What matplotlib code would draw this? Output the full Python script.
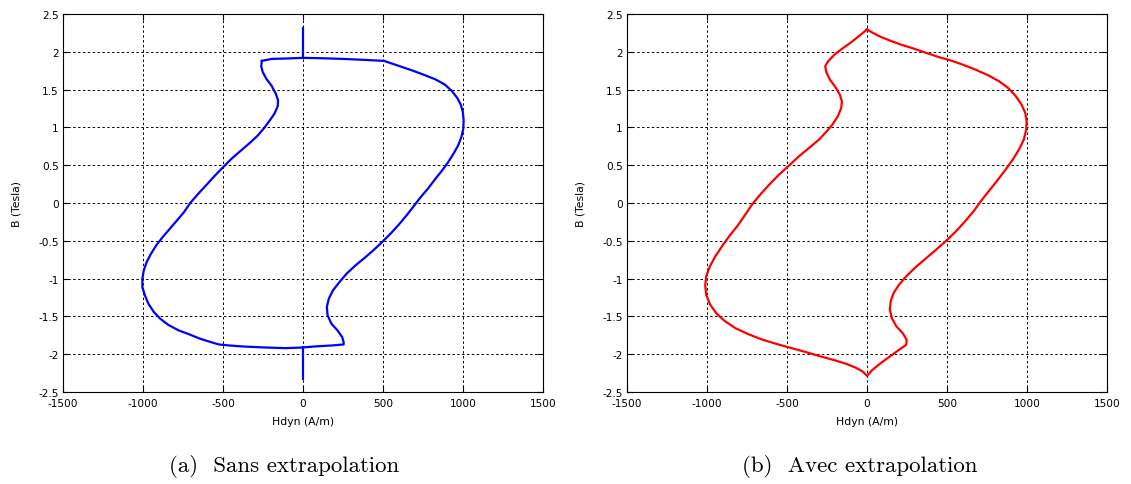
import matplotlib
matplotlib.use("Agg")
import matplotlib.pyplot as plt

# (a) Sans extrapolation : loop + vertical spikes
H_a = [-257, -196, -107, 0, 116, 250, 384, 506, 562, 629, 696, 763, 830, 886, 930, 964, 986, 999, 1004,
       1002, 990, 970, 941, 908, 870, 825, 781, 736, 696, 651, 602, 551, 495, 439, 384, 328, 272,
       228, 187, 161, 149, 154, 178, 216, 245, 254, 254,
       183, 71, 0, -107, -241, -375, -464, -526,
       -576, -642, -709, -776, -843, -892, -932, -966, -988, -1004, -1004, -995, -977, -950, -917,
       -877, -832, -787, -743, -705, -654, -602, -553, -502, -446, -386, -330, -281, -241, -207,
       -178, -158, -156, -170, -196, -230, -252, -261, -257]
B_a = [1.880, 1.906, 1.911, 1.920, 1.915, 1.906, 1.893, 1.880, 1.840, 1.792, 1.743, 1.690, 1.633, 1.567,
       1.483, 1.390, 1.302, 1.205, 1.094,
       0.984, 0.874, 0.763, 0.653, 0.543, 0.432, 0.313, 0.190, 0.079, -0.031, -0.154, -0.278, -0.397,
       -0.516, -0.627, -0.728, -0.825, -0.936,
       -1.046, -1.156, -1.267, -1.377, -1.487, -1.598, -1.686, -1.774, -1.840, -1.871,
       -1.884, -1.898, -1.911, -1.920, -1.911, -1.898, -1.884, -1.871,
       -1.840, -1.796, -1.739, -1.686, -1.611, -1.531, -1.443, -1.333, -1.222, -1.112, -1.002, -0.891,
       -0.781, -0.671, -0.560,
       -0.450, -0.340, -0.229, -0.119, 0.0, 0.124, 0.243, 0.357, 0.468, 0.587, 0.697, 0.799, 0.896,
       0.997, 1.094,
       1.183, 1.280, 1.359, 1.447, 1.549, 1.646, 1.734, 1.809, 1.880]
spike_top_H = [0, 0]
spike_top_B = [1.92, 2.32]
spike_bot_H = [0, 0]
spike_bot_B = [-1.911, -2.33]

# (b) Avec extrapolation
H_b = [0, 41, 86, 143, 211, 291, 370, 450, 518, 598, 677, 757, 825, 882, 927, 966, 989, 998, 995,
       980, 950, 911, 866, 814, 757, 711, 666, 609, 552, 491, 427, 366, 302, 245, 200, 166, 148,
       143, 155, 184, 223, 248, 245, 200, 143, 86, 34, 0,
       -27, -73, -130, -198, -289, -380, -470, -561, -652, -743, -823, -891, -943, -982, -1005,
       -1011, -1005, -982, -948, -902, -857, -807, -761, -716, -664, -607, -550, -493, -425, -357,
       -300, -255, -216, -182, -161, -157, -170, -198, -232, -255, -261, -243, -198, -148, -95, -43, 0]
B_b = [2.295, 2.246, 2.198, 2.149, 2.096, 2.043, 1.986, 1.929, 1.889, 1.831, 1.765, 1.690, 1.611,
       1.522, 1.421, 1.302, 1.192, 1.081, 0.971,
       0.838, 0.706, 0.574, 0.441, 0.296, 0.146, 0.022, -0.110, -0.252, -0.384, -0.507, -0.627,
       -0.737, -0.852, -0.971, -1.081, -1.192, -1.302,
       -1.412, -1.522, -1.633, -1.721, -1.809, -1.876, -1.942, -2.030, -2.118, -2.207, -2.286,
       -2.229, -2.176, -2.127, -2.083, -2.030, -1.973, -1.920, -1.867, -1.809, -1.734, -1.655,
       -1.558, -1.456, -1.337, -1.214,
       -1.090, -0.971, -0.838, -0.706, -0.560, -0.428, -0.296, -0.154, -0.013, 0.119, 0.252, 0.375,
       0.485, 0.618, 0.737,
       0.838, 0.940, 1.037, 1.147, 1.258, 1.346, 1.434, 1.536, 1.633, 1.734, 1.809, 1.876, 1.973,
       2.052, 2.132, 2.220, 2.295]

x_ticks = [-1500, -1000, -500, 0, 500, 1000, 1500]
y_ticks = [-2.5, -2, -1.5, -1, -0.5, 0, 0.5, 1, 1.5, 2, 2.5]
x_ticklabels = ["-1500", "-1000", "-500", "0", "500", "1000", "1500"]
y_ticklabels = ["-2.5", "-2", "-1.5", "-1", "-0.5", "0", "0.5", "1", "1.5", "2", "2.5"]
xlabel = "Hdyn (A/m)"
ylabel = "B (Tesla)"
captions = ["(a)  Sans extrapolation", "(b)  Avec extrapolation"]

W, Hpx = 1131, 485
fig = plt.figure(figsize=(W / 100, Hpx / 100), dpi=100)
tick_font = dict(family="DejaVu Sans", size=7.6)


def make_axes(left_px, right_px):
    top_px, bot_px = 15, 393
    ax = fig.add_axes([left_px / W, 1 - bot_px / Hpx, (right_px - left_px) / W, (bot_px - top_px) / Hpx])
    ax.set_xlim(-1500, 1500)
    ax.set_ylim(-2.5, 2.5)
    ax.set_xticks(x_ticks)
    ax.set_yticks(y_ticks)
    ax.set_xticklabels(x_ticklabels, fontdict=tick_font)
    ax.set_yticklabels(y_ticklabels, fontdict=tick_font)
    ax.tick_params(direction="in", length=4, width=0.8, top=True, right=True, colors="black")
    ax.tick_params(axis="x", pad=4)
    ax.tick_params(axis="y", pad=3)
    ax.grid(True, color="black", linestyle=(0, (2.5, 2.5)), linewidth=0.7)
    for s in ax.spines.values():
        s.set_linewidth(0.8)
    ax.set_xlabel(xlabel, fontdict=dict(family="DejaVu Sans", size=7.8), labelpad=6)
    ax.set_ylabel(ylabel, fontdict=dict(family="DejaVu Sans", size=7.8), labelpad=12)
    return ax


ax1 = make_axes(63, 543)
ax1.plot(H_a, B_a, color="#0000ff", lw=1.6)
ax1.plot(spike_top_H, spike_top_B, color="#0000ff", lw=1.6)
ax1.plot(spike_bot_H, spike_bot_B, color="#0000ff", lw=1.6)

ax2 = make_axes(627, 1107)
ax2.plot(H_b, B_b, color="#ff0000", lw=1.6)

fig.text(284 / W, 1 - 467 / Hpx, captions[0], ha="center", va="center", family="cmr10", size=16.5)
fig.text(860 / W, 1 - 467 / Hpx, captions[1], ha="center", va="center", family="cmr10", size=16.5)

fig.savefig("out.png", dpi=100)
